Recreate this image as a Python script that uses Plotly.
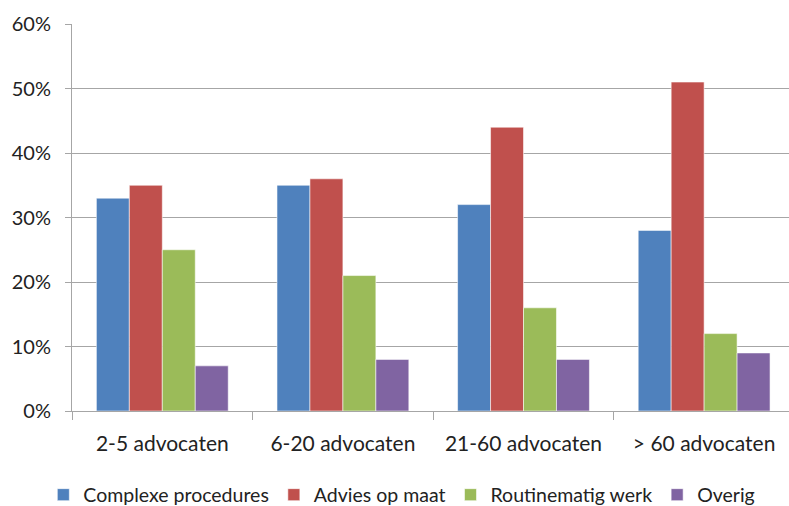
import plotly.graph_objects as go

# Firm size categories and share of work per type
categories = ["2-5 advocaten", "6-20 advocaten", "21-60 advocaten", "> 60 advocaten"]
complexe_procedures = [33, 35, 32, 28]
advies_op_maat = [35, 36, 44, 51]
routinematig_werk = [25, 21, 16, 12]
overig = [7, 8, 8, 9]

series = [
    ("Complexe procedures", complexe_procedures, "#4F81BD"),
    ("Advies op maat", advies_op_maat, "#C0504D"),
    ("Routinematig werk", routinematig_werk, "#9BBB59"),
    ("Overig", overig, "#8064A2"),
]

FONT = "Lato"
GRID = "#A6A6A6"
TEXT = "#222222"

fig = go.Figure()
for name, values, color in series:
    fig.add_trace(go.Bar(
        name=name,
        x=categories,
        y=[v / 100 for v in values],
        marker=dict(color=color, line=dict(color="rgba(255,255,255,0.55)", width=1)),
    ))

fig.update_layout(
    width=789,
    height=506,
    margin=dict(l=72, r=0, t=24, b=95, autoexpand=False),
    paper_bgcolor="white",
    plot_bgcolor="white",
    barmode="group",
    bargap=0.27,
    bargroupgap=0,
    font=dict(family=FONT, size=21, color=TEXT),
    showlegend=True,
    legend=dict(
        orientation="h",
        x=-0.04,
        xanchor="left",
        y=-0.217,
        yanchor="middle",
        font=dict(family=FONT, size=19.5, color=TEXT),
        itemwidth=30,
        tracegroupgap=0,
    ),
    xaxis=dict(
        range=[-0.5, 3.47],
        showgrid=False,
        showline=True,
        linecolor=GRID,
        linewidth=1,
        ticks="outside",
        tickson="boundaries",
        ticklen=8,
        tickcolor=GRID,
        tickfont=dict(family=FONT, size=21, color=TEXT),
        ticklabelstandoff=14,
    ),
    yaxis=dict(
        range=[0, 0.6],
        dtick=0.1,
        tickformat=".0%",
        showgrid=True,
        gridcolor=GRID,
        gridwidth=1,
        showline=True,
        linecolor=GRID,
        linewidth=1,
        ticks="outside",
        ticklen=6,
        tickcolor=GRID,
        zeroline=False,
        tickfont=dict(family=FONT, size=20, color=TEXT),
        ticklabelstandoff=10,
    ),
)

fig.write_html("out.html")
